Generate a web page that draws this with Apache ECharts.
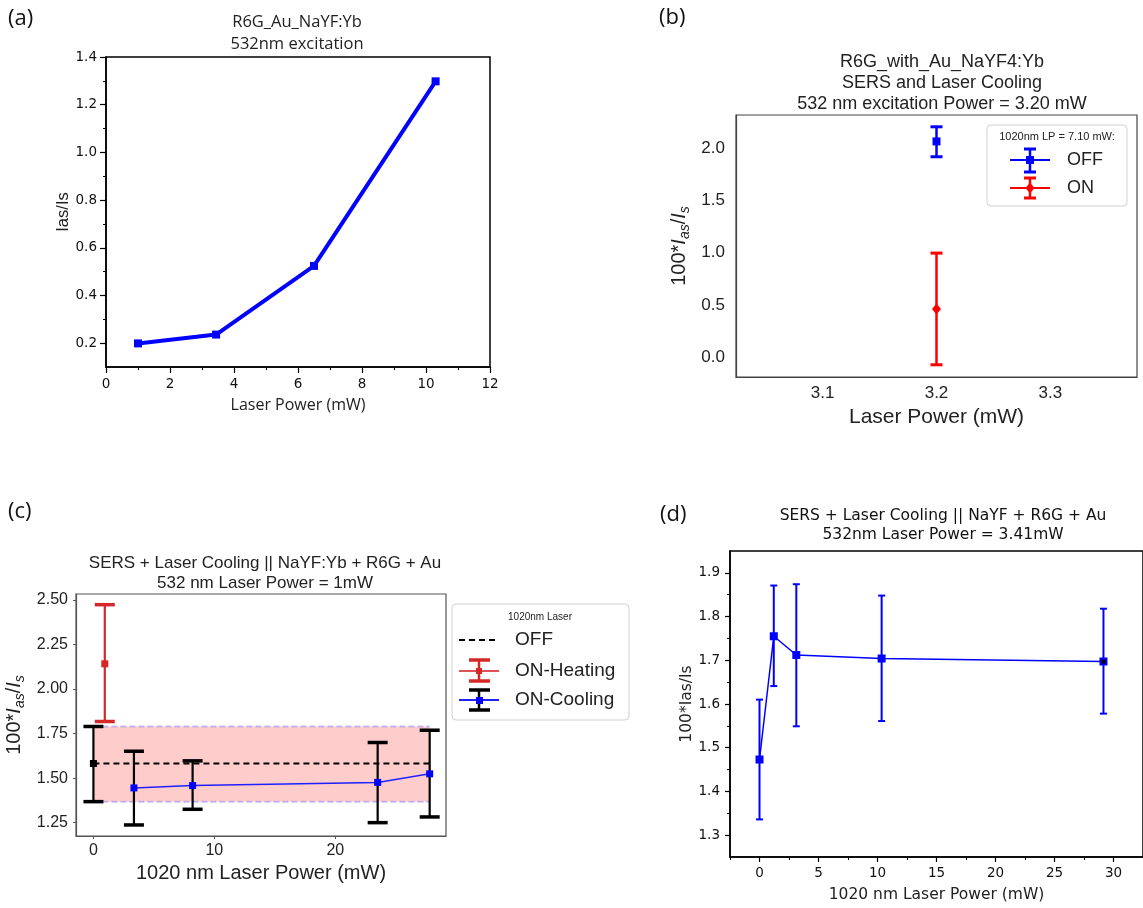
<!DOCTYPE html>
<html>
<head>
<meta charset="utf-8">
<script src="https://cdn.jsdelivr.net/npm/echarts@6/dist/echarts.min.js"></script>
<style>
html,body{margin:0;padding:0;background:#fff;}
#c{width:1143px;height:908px;}
</style>
</head>
<body>
<div id="c"></div>
<script>
// ---------- Panel (a) ----------
const aPower = [1.0, 3.44, 6.5, 10.3];
const aRatio = [0.199, 0.236, 0.524, 1.298];
const aYTicks = [0.2, 0.4, 0.6, 0.8, 1.0, 1.2, 1.4];
const aYMinor = [0.3, 0.5, 0.7, 0.9, 1.1, 1.3];

// ---------- Panel (b) ----------
const bPower = [3.2];
const bOffVal = [2.067], bOffLo = [1.92], bOffHi = [2.207];
const bOnVal = [0.462], bOnLo = [-0.073], bOnHi = [0.997];
const bXTicks = [3.1, 3.2, 3.3];
const bYTicks = [0.0, 0.5, 1.0, 1.5, 2.0];

// ---------- Panel (c) ----------
const cOffPower = [0];
const cOffVal = [1.582], cOffLo = [1.368], cOffHi = [1.79];
const cHeatPower = [0.94];
const cHeatVal = [2.142], cHeatLo = [1.818], cHeatHi = [2.474];
const cCoolPower = [3.35, 8.2, 23.5, 27.8];
const cCoolVal = [1.445, 1.458, 1.476, 1.524];
const cCoolLo = [1.237, 1.325, 1.25, 1.282];
const cCoolHi = [1.651, 1.597, 1.70, 1.769];
const cXTicks = [0, 10, 20];
const cYTicks = [1.25, 1.5, 1.75, 2.0, 2.25, 2.5];

// ---------- Panel (d) ----------
const dPower = [0, 1.21, 3.12, 10.35, 29.15];
const dVal = [1.473, 1.755, 1.712, 1.704, 1.697];
const dLo = [1.336, 1.641, 1.549, 1.561, 1.578];
const dHi = [1.61, 1.871, 1.874, 1.848, 1.818];
const dXTicks = [0, 5, 10, 15, 20, 25, 30];
const dXMinor = [-2.5, 2.5, 7.5, 12.5, 17.5, 22.5, 27.5];
const dYTicks = [1.3, 1.4, 1.5, 1.6, 1.7, 1.8, 1.9];
const dYMinor = [1.35, 1.45, 1.55, 1.65, 1.75, 1.85];

// ---------- helpers ----------
const ARIAL = '"Liberation Sans", Arial, sans-serif';
const DEJA = '"DejaVu Sans", sans-serif';
const OPEN = '"Open Sans", sans-serif';

function zip(xs, ys) { return xs.map((x, i) => [x, ys[i]]); }
function zip3(xs, a, b) { return xs.map((x, i) => [x, a[i], b[i]]); }

function errSeries(xi, yi, data, color, capW, lw, capLw, z) {
  return {
    type: 'custom', xAxisIndex: xi, yAxisIndex: yi, z: z || 3, clip: false,
    encode: { x: 0, y: [1, 2] }, data: data, silent: true,
    renderItem: function (params, api) {
      const x = api.value(0), lo = api.value(1), hi = api.value(2);
      const a = api.coord([x, lo]), b = api.coord([x, hi]);
      const h = capW / 2;
      return {
        type: 'group', children: [
          { type: 'line', shape: { x1: a[0], y1: a[1], x2: b[0], y2: b[1] }, style: { stroke: color, lineWidth: lw } },
          { type: 'line', shape: { x1: a[0] - h, y1: a[1], x2: a[0] + h, y2: a[1] }, style: { stroke: color, lineWidth: capLw } },
          { type: 'line', shape: { x1: b[0] - h, y1: b[1], x2: b[0] + h, y2: b[1] }, style: { stroke: color, lineWidth: capLw } }
        ]
      };
    }
  };
}

const fmt1 = v => v.toFixed(1);
const fmt2 = v => v.toFixed(2);

const option = {
  animation: false,
  backgroundColor: '#fff',
  title: [
    { text: 'R6G_Au_NaYF:Yb\n532nm excitation', left: 292, top: 6, textAlign: 'center',
      textStyle: { fontFamily: OPEN, fontSize: 16.5, fontWeight: 'normal', color: '#222', lineHeight: 22 } },
    { text: 'R6G_with_Au_NaYF4:Yb\nSERS and Laser Cooling\n532 nm excitation Power = 3.20 mW', left: 937, top: 47, textAlign: 'center',
      textStyle: { fontFamily: ARIAL, fontSize: 18, fontWeight: 'normal', color: '#222', lineHeight: 21 } },
    { text: 'SERS + Laser Cooling || NaYF:Yb + R6G + Au\n532 nm Laser Power = 1mW', left: 260, top: 548, textAlign: 'center',
      textStyle: { fontFamily: ARIAL, fontSize: 17, fontWeight: 'normal', color: '#222', lineHeight: 20 } },
    { text: 'SERS + Laser Cooling || NaYF + R6G + Au\n532nm Laser Power = 3.41mW', left: 938, top: 501, textAlign: 'center',
      textStyle: { fontFamily: DEJA, fontSize: 15.5, fontWeight: 'normal', color: '#111', lineHeight: 19 } }
  ],
  grid: [
    { left: 106, top: 57, width: 384, height: 310, show: true, borderColor: '#000', borderWidth: 1.5, backgroundColor: 'transparent' },
    { left: 736, top: 115, width: 401, height: 262, show: true, borderColor: '#444', borderWidth: 1.2, backgroundColor: 'transparent' },
    { left: 74, top: 594, width: 372, height: 242, show: true, borderColor: '#555', borderWidth: 1.2, backgroundColor: 'transparent' },
    { left: 730, top: 551, width: 415, height: 306, show: true, borderColor: '#000', borderWidth: 1.5, backgroundColor: 'transparent' }
  ],
  xAxis: [
    { // a
      type: 'value', gridIndex: 0, min: 0, max: 12, interval: 2,
      axisLine: { onZero: false, lineStyle: { color: '#000', width: 1.5 } },
      axisTick: { show: true, length: 6, lineStyle: { color: '#000', width: 1.2 } },
      minorTick: { show: true, splitNumber: 2, length: 3, lineStyle: { color: '#000', width: 1 } },
      axisLabel: { margin: 10, fontFamily: DEJA, fontSize: 13.5, color: '#111' },
      splitLine: { show: false },
      name: 'Laser Power (mW)', nameLocation: 'middle', nameGap: 30,
      nameTextStyle: { fontFamily: OPEN, fontSize: 16, color: '#222' }
    },
    { // b
      type: 'value', gridIndex: 1, min: 3.024, max: 3.376,
      axisLine: { onZero: false, lineStyle: { color: '#444', width: 1.2 } },
      axisTick: { show: false },
      axisLabel: { margin: 8, fontFamily: ARIAL, fontSize: 17, color: '#222', formatter: fmt1, customValues: bXTicks },
      splitLine: { show: false },
      name: 'Laser Power (mW)', nameLocation: 'middle', nameGap: 30,
      nameTextStyle: { fontFamily: ARIAL, fontSize: 21, color: '#222' }
    },
    { // c
      type: 'value', gridIndex: 2, min: -1.44, max: 29.15,
      axisLine: { onZero: false, lineStyle: { color: '#555', width: 1.2 } },
      axisTick: { show: true, length: 3, lineStyle: { color: '#555' }, customValues: cXTicks },
      axisLabel: { margin: 7, fontFamily: ARIAL, fontSize: 16, color: '#222', customValues: cXTicks },
      splitLine: { show: false },
      name: '1020 nm Laser Power (mW)', nameLocation: 'middle', nameGap: 27,
      nameTextStyle: { fontFamily: ARIAL, fontSize: 20, color: '#222' }
    },
    { // d
      type: 'value', gridIndex: 3, min: -2.5, max: 32.5,
      axisLine: { onZero: false, lineStyle: { color: '#000', width: 1.5 } },
      axisTick: { show: true, length: 5, lineStyle: { color: '#000', width: 1.2 }, customValues: dXTicks },
      axisLabel: { margin: 9, fontFamily: DEJA, fontSize: 13.5, color: '#111', customValues: dXTicks },
      splitLine: { show: false },
      name: '1020 nm Laser Power (mW)', nameLocation: 'middle', nameGap: 30,
      nameTextStyle: { fontFamily: DEJA, fontSize: 15.5, color: '#222' }
    },
    { // d minor
      type: 'value', gridIndex: 3, min: -2.5, max: 32.5, position: 'bottom',
      axisLine: { show: false, onZero: false },
      axisTick: { show: true, length: 3, lineStyle: { color: '#000', width: 1 }, customValues: dXMinor },
      axisLabel: { show: false }, splitLine: { show: false }
    }
  ],
  yAxis: [
    { // a
      type: 'value', gridIndex: 0, min: 0.1, max: 1.4,
      axisLine: { show: true, onZero: false, lineStyle: { color: '#000', width: 1.5 } },
      axisTick: { show: true, length: 6, lineStyle: { color: '#000', width: 1.2 }, customValues: aYTicks },
      axisLabel: { margin: 9, fontFamily: DEJA, fontSize: 13.5, color: '#111', formatter: fmt1, customValues: aYTicks },
      splitLine: { show: false },
      name: 'Ias/Is', nameLocation: 'middle', nameGap: 32,
      nameTextStyle: { fontFamily: ARIAL, fontSize: 16.5, color: '#222' }
    },
    { // b
      type: 'value', gridIndex: 1, min: -0.19, max: 2.32,
      axisLine: { show: true, onZero: false, lineStyle: { color: '#444', width: 1.2 } },
      axisTick: { show: false },
      axisLabel: { margin: 11, fontFamily: ARIAL, fontSize: 17, color: '#222', formatter: fmt1, customValues: bYTicks },
      splitLine: { show: false },
      name: '100*{i|I}{s|as}{n|/}{i|I}{s|s}', nameLocation: 'middle', nameGap: 44,
      nameTextStyle: { fontFamily: ARIAL, fontSize: 20, color: '#222', lineHeight: 26,
        rich: {
          i: { fontFamily: ARIAL, fontSize: 20, fontStyle: 'italic', color: '#222', lineHeight: 26 },
          n: { fontFamily: ARIAL, fontSize: 20, color: '#222', lineHeight: 26 },
          s: { fontFamily: ARIAL, fontSize: 14, fontStyle: 'italic', color: '#222', lineHeight: 14, verticalAlign: 'bottom' }
        } }
    },
    { // c
      type: 'value', gridIndex: 2, min: 1.175, max: 2.534,
      axisLine: { show: true, onZero: false, lineStyle: { color: '#555', width: 1.2 } },
      axisTick: { show: true, length: 3, lineStyle: { color: '#555' }, customValues: cYTicks },
      axisLabel: { margin: 8, fontFamily: ARIAL, fontSize: 16, color: '#222', formatter: fmt2, customValues: cYTicks },
      splitLine: { show: false },
      name: '100*{i|I}{s|as}{n|/}{i|I}{s|s}', nameLocation: 'middle', nameGap: 49,
      nameTextStyle: { fontFamily: ARIAL, fontSize: 20, color: '#222', lineHeight: 26,
        rich: {
          i: { fontFamily: ARIAL, fontSize: 20, fontStyle: 'italic', color: '#222', lineHeight: 26 },
          n: { fontFamily: ARIAL, fontSize: 20, color: '#222', lineHeight: 26 },
          s: { fontFamily: ARIAL, fontSize: 14, fontStyle: 'italic', color: '#222', lineHeight: 14, verticalAlign: 'bottom' }
        } }
    },
    { // d
      type: 'value', gridIndex: 3, min: 1.25, max: 1.95,
      axisLine: { show: true, onZero: false, lineStyle: { color: '#000', width: 1.5 } },
      axisTick: { show: true, length: 5, lineStyle: { color: '#000', width: 1.2 }, customValues: dYTicks },
      axisLabel: { margin: 10, fontFamily: DEJA, fontSize: 13.5, color: '#111', formatter: fmt1, customValues: dYTicks },
      splitLine: { show: false },
      name: '100*Ias/Is', nameLocation: 'middle', nameGap: 33,
      nameTextStyle: { fontFamily: DEJA, fontSize: 15.5, color: '#222' }
    },
    { // a minor
      type: 'value', gridIndex: 0, min: 0.1, max: 1.4, position: 'left',
      axisLine: { show: false, onZero: false },
      axisTick: { show: true, length: 3, lineStyle: { color: '#000', width: 1 }, customValues: aYMinor },
      axisLabel: { show: false }, splitLine: { show: false }
    },
    { // d minor
      type: 'value', gridIndex: 3, min: 1.25, max: 1.95, position: 'left',
      axisLine: { show: false, onZero: false },
      axisTick: { show: true, length: 3, lineStyle: { color: '#000', width: 1 }, customValues: dYMinor },
      axisLabel: { show: false }, splitLine: { show: false }
    }
  ],
  series: [
    // (a)
    { type: 'line', xAxisIndex: 0, yAxisIndex: 0, data: zip(aPower, aRatio),
      lineStyle: { color: '#0000ff', width: 4 }, itemStyle: { color: '#0000ff' },
      symbol: 'rect', symbolSize: 8, z: 4 },

    // (b)
    errSeries(1, 1, zip3(bPower, bOffLo, bOffHi), '#0000ff', 12, 2.5, 3),
    errSeries(1, 1, zip3(bPower, bOnLo, bOnHi), '#ff0000', 12, 2.5, 3),
    { type: 'line', xAxisIndex: 1, yAxisIndex: 1, data: zip(bPower, bOffVal),
      itemStyle: { color: '#0000ff' }, symbol: 'rect', symbolSize: 8, z: 5 },
    { type: 'line', xAxisIndex: 1, yAxisIndex: 1, data: zip(bPower, bOnVal),
      itemStyle: { color: '#ff0000' }, symbol: 'diamond', symbolSize: [9, 11], z: 5 },

    // (c) band
    { type: 'custom', xAxisIndex: 2, yAxisIndex: 2, z: 1, silent: true,
      encode: { x: [0, 1], y: [2, 3] },
      data: [[cOffPower[0], cCoolPower[cCoolPower.length - 1], cOffLo[0], cOffHi[0]]],
      renderItem: function (params, api) {
        const p0 = api.coord([api.value(0), api.value(3)]);
        const p1 = api.coord([api.value(1), api.value(2)]);
        return { type: 'group', children: [
          { type: 'rect', shape: { x: p0[0], y: p0[1], width: p1[0] - p0[0], height: p1[1] - p0[1] },
            style: { fill: 'rgba(255,0,0,0.2)' } },
          { type: 'line', shape: { x1: p0[0], y1: p0[1], x2: p1[0], y2: p0[1] },
            style: { stroke: 'rgba(120,120,255,0.45)', lineWidth: 2, lineDash: [6, 3] } },
          { type: 'line', shape: { x1: p0[0], y1: p1[1], x2: p1[0], y2: p1[1] },
            style: { stroke: 'rgba(120,120,255,0.45)', lineWidth: 2, lineDash: [6, 3] } }
        ] };
      } },
    // (c) OFF dashed line
    { type: 'line', xAxisIndex: 2, yAxisIndex: 2, z: 2,
      data: [[cOffPower[0], cOffVal[0]], [cCoolPower[cCoolPower.length - 1], cOffVal[0]]],
      lineStyle: { color: '#000', width: 2, type: [6, 4] }, symbol: 'none' },
    errSeries(2, 2, zip3(cOffPower, cOffLo, cOffHi), '#000', 20, 2.2, 3.5, 3),
    { type: 'line', xAxisIndex: 2, yAxisIndex: 2, data: zip(cOffPower, cOffVal),
      itemStyle: { color: '#000' }, symbol: 'rect', symbolSize: 7, z: 5 },
    errSeries(2, 2, zip3(cHeatPower, cHeatLo, cHeatHi), '#d62728', 20, 2.2, 3.5, 3),
    { type: 'line', xAxisIndex: 2, yAxisIndex: 2, data: zip(cHeatPower, cHeatVal),
      itemStyle: { color: '#d62728' }, symbol: 'rect', symbolSize: 7, z: 5 },
    errSeries(2, 2, zip3(cCoolPower, cCoolLo, cCoolHi), '#000', 20, 2.2, 3.5, 3),
    { type: 'line', xAxisIndex: 2, yAxisIndex: 2, data: zip(cCoolPower, cCoolVal),
      lineStyle: { color: '#2020ff', width: 1.5 }, itemStyle: { color: '#0000ff' },
      symbol: 'rect', symbolSize: 7, z: 5 },

    // (d)
    errSeries(3, 3, zip3(dPower, dLo, dHi), '#0000ff', 7, 2, 2, 3),
    { type: 'line', xAxisIndex: 3, yAxisIndex: 3,
      data: zip(dPower, dVal).map((p, i) => i === dPower.length - 1
        ? { value: p, symbolSize: 6, itemStyle: { color: '#000', borderColor: '#0000ff', borderWidth: 2 } } : p),
      lineStyle: { color: '#0000ff', width: 1.5 }, itemStyle: { color: '#0000ff' },
      symbol: 'rect', symbolSize: 8, z: 5 }
  ],
  graphic: [
    // panel labels
    { type: 'text', x: 8, y: 19, style: { text: '(a)', fontFamily: OPEN, fontSize: 22, fill: '#111', verticalAlign: 'middle' } },
    { type: 'text', x: 659, y: 18, style: { text: '(b)', fontFamily: OPEN, fontSize: 22, fill: '#111', verticalAlign: 'middle' } },
    { type: 'text', x: 8, y: 512, style: { text: '(c)', fontFamily: OPEN, fontSize: 22, fill: '#111', verticalAlign: 'middle' } },
    { type: 'text', x: 660, y: 515, style: { text: '(d)', fontFamily: OPEN, fontSize: 22, fill: '#111', verticalAlign: 'middle' } },

    // legend (b)
    { type: 'rect', shape: { x: 987, y: 125, width: 140, height: 81, r: 4 }, style: { fill: '#fff', stroke: '#d0d0d0', lineWidth: 1 }, z: 10 },
    { type: 'text', x: 1057, y: 137, z: 11, style: { text: '1020nm LP = 7.10 mW:', fontFamily: ARIAL, fontSize: 11, fill: '#222', align: 'center', verticalAlign: 'middle' } },
    { type: 'line', z: 11, shape: { x1: 1010, y1: 160, x2: 1050, y2: 160 }, style: { stroke: '#0000ff', lineWidth: 2 } },
    { type: 'line', z: 11, shape: { x1: 1030, y1: 149, x2: 1030, y2: 172 }, style: { stroke: '#0000ff', lineWidth: 2.5 } },
    { type: 'line', z: 11, shape: { x1: 1024, y1: 149, x2: 1036, y2: 149 }, style: { stroke: '#0000ff', lineWidth: 3 } },
    { type: 'line', z: 11, shape: { x1: 1024, y1: 172, x2: 1036, y2: 172 }, style: { stroke: '#0000ff', lineWidth: 3 } },
    { type: 'rect', z: 12, shape: { x: 1026, y: 156, width: 8, height: 8 }, style: { fill: '#0000ff' } },
    { type: 'text', x: 1067, y: 160, z: 11, style: { text: 'OFF', fontFamily: ARIAL, fontSize: 18, fill: '#222', verticalAlign: 'middle' } },
    { type: 'line', z: 11, shape: { x1: 1010, y1: 188, x2: 1050, y2: 188 }, style: { stroke: '#ff0000', lineWidth: 2 } },
    { type: 'line', z: 11, shape: { x1: 1030, y1: 178, x2: 1030, y2: 198 }, style: { stroke: '#ff0000', lineWidth: 2.5 } },
    { type: 'line', z: 11, shape: { x1: 1024, y1: 178, x2: 1036, y2: 178 }, style: { stroke: '#ff0000', lineWidth: 3 } },
    { type: 'line', z: 11, shape: { x1: 1024, y1: 198, x2: 1036, y2: 198 }, style: { stroke: '#ff0000', lineWidth: 3 } },
    { type: 'polygon', z: 12, shape: { points: [[1030, 182.5], [1034.5, 188], [1030, 193.5], [1025.5, 188]] }, style: { fill: '#ff0000' } },
    { type: 'text', x: 1067, y: 188, z: 11, style: { text: 'ON', fontFamily: ARIAL, fontSize: 18, fill: '#222', verticalAlign: 'middle' } },

    // legend (c)
    { type: 'rect', shape: { x: 452, y: 604, width: 177, height: 116, r: 4 }, style: { fill: '#fff', stroke: '#d0d0d0', lineWidth: 1 }, z: 10 },
    { type: 'text', x: 540, y: 617, z: 11, style: { text: '1020nm Laser', fontFamily: ARIAL, fontSize: 10, fill: '#222', align: 'center', verticalAlign: 'middle' } },
    { type: 'line', z: 11, shape: { x1: 459, y1: 640, x2: 499, y2: 640 }, style: { stroke: '#000', lineWidth: 2, lineDash: [6, 4] } },
    { type: 'text', x: 515, y: 640, z: 11, style: { text: 'OFF', fontFamily: ARIAL, fontSize: 19, fill: '#222', verticalAlign: 'middle' } },
    { type: 'line', z: 11, shape: { x1: 459, y1: 671, x2: 499, y2: 671 }, style: { stroke: 'rgba(214,39,40,0.8)', lineWidth: 2 } },
    { type: 'line', z: 11, shape: { x1: 479, y1: 660, x2: 479, y2: 681 }, style: { stroke: '#d62728', lineWidth: 2.5 } },
    { type: 'line', z: 11, shape: { x1: 469, y1: 660, x2: 490, y2: 660 }, style: { stroke: '#d62728', lineWidth: 3.5 } },
    { type: 'line', z: 11, shape: { x1: 469, y1: 681, x2: 490, y2: 681 }, style: { stroke: '#d62728', lineWidth: 3.5 } },
    { type: 'rect', z: 12, shape: { x: 476, y: 668, width: 6, height: 6 }, style: { fill: '#d62728' } },
    { type: 'text', x: 515, y: 671, z: 11, style: { text: 'ON-Heating', fontFamily: ARIAL, fontSize: 19, fill: '#222', verticalAlign: 'middle' } },
    { type: 'line', z: 11, shape: { x1: 459, y1: 700, x2: 499, y2: 700 }, style: { stroke: '#2020ff', lineWidth: 2 } },
    { type: 'line', z: 11, shape: { x1: 479, y1: 690, x2: 479, y2: 710 }, style: { stroke: '#000', lineWidth: 2.5 } },
    { type: 'line', z: 11, shape: { x1: 469, y1: 690, x2: 490, y2: 690 }, style: { stroke: '#000', lineWidth: 3.5 } },
    { type: 'line', z: 11, shape: { x1: 469, y1: 710, x2: 490, y2: 710 }, style: { stroke: '#000', lineWidth: 3.5 } },
    { type: 'rect', z: 12, shape: { x: 476, y: 697, width: 7, height: 7 }, style: { fill: '#0000ff' } },
    { type: 'text', x: 515, y: 700, z: 11, style: { text: 'ON-Cooling', fontFamily: ARIAL, fontSize: 19, fill: '#222', verticalAlign: 'middle' } }
  ]
};

const chart = echarts.init(document.getElementById('c'), null, { renderer: 'canvas' });
chart.setOption(option);
</script>
</body>
</html>
